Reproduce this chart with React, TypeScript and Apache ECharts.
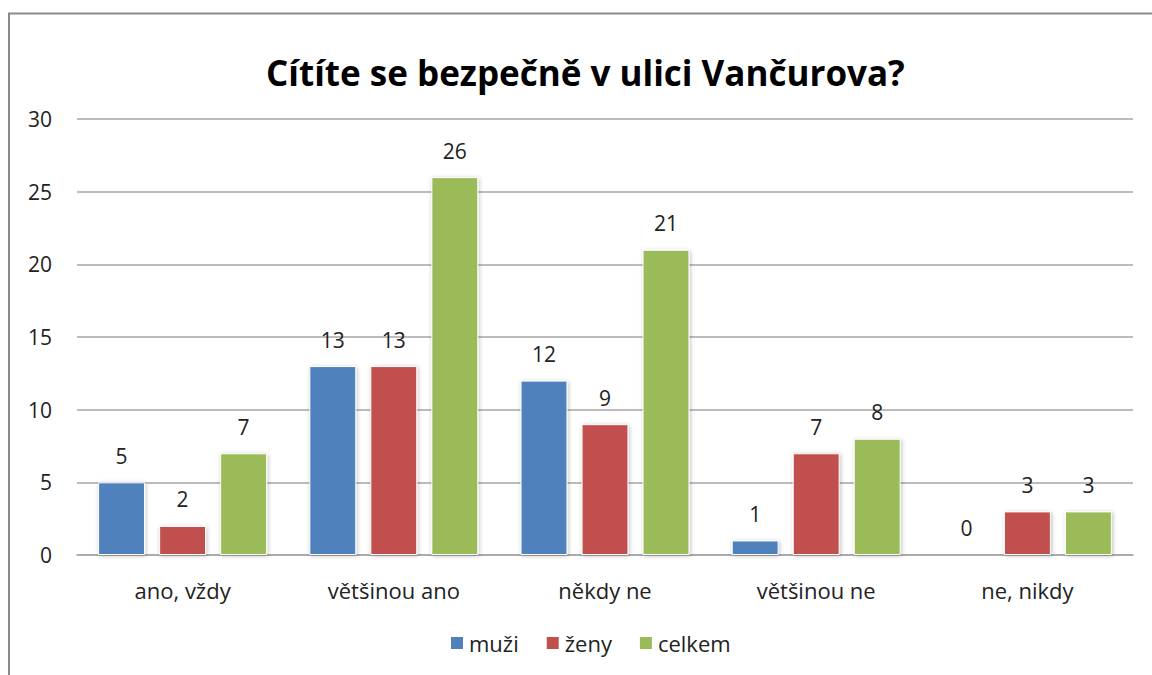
import React, { useEffect, useRef } from "react";
import * as echarts from "echarts";

const categories = ["ano, vždy", "většinou ano", "někdy ne", "většinou ne", "ne, nikdy"];
const muzi = [5, 13, 12, 1, 0];
const zeny = [2, 13, 9, 7, 3];
const celkem = [7, 26, 21, 8, 3];
const seriesNames = ["muži", "ženy", "celkem"];
const colors = ["#4F81BD", "#C0504D", "#9BBB59"];
const titleText = "Cítíte se bezpečně v ulici Vančurova?";

const FONT = "'Open Sans', 'Noto Sans', sans-serif";

export default function App() {
  const ref = useRef<HTMLDivElement>(null);
  useEffect(() => {
    if (!ref.current) return;
    const chart = echarts.init(ref.current, undefined, { renderer: "svg" });
    const mk = (name: string, data: number[], color: string) => ({
      name,
      type: "bar",
      data,
      barGap: "30%",
      barCategoryGap: "20%",
      itemStyle: {
        color,
        borderColor: "#ffffff",
        borderWidth: 1,
        shadowBlur: 4,
        shadowColor: "rgba(0,0,0,0.25)",
        shadowOffsetX: 1,
        shadowOffsetY: 1,
      },
      label: {
        show: true,
        position: "top",
        distance: 16,
        fontSize: 21,
        color: "#222",
        fontFamily: FONT,
      },
    });
    chart.setOption({
      animation: false,
      backgroundColor: "#ffffff",
      title: {
        text: titleText,
        left: 261,
        top: 50,
        textStyle: { fontSize: 35, fontWeight: "bold", color: "#000", fontFamily: FONT },
      },
      graphic: [
        {
          type: "rect",
          shape: { x: 9, y: 13.5, width: 1300, height: 800 },
          style: { fill: "none", stroke: "#8a8a8a", lineWidth: 2 },
          silent: true,
        },
      ],
      legend: {
        data: seriesNames,
        bottom: 16,
        left: 444,
        itemWidth: 14,
        itemHeight: 14,
        itemGap: 26,
        icon: "rect",
        textStyle: { fontSize: 22, color: "#222", fontFamily: FONT },
      },
      grid: { left: 77, right: 19, top: 119, bottom: 120, containLabel: false },
      xAxis: {
        type: "category",
        data: categories,
        axisLine: { show: true, lineStyle: { color: "#a6a6a6", width: 1.5 } },
        axisTick: { show: false },
        axisLabel: { fontSize: 22, color: "#222", margin: 24, fontFamily: FONT },
      },
      yAxis: {
        type: "value",
        min: 0,
        max: 30,
        interval: 5,
        axisLine: { show: false },
        axisTick: { show: false },
        axisLabel: { fontSize: 21, color: "#222", margin: 25, fontFamily: FONT },
        splitLine: { lineStyle: { color: "#a6a6a6", width: 1.5 } },
      },
      series: [
        mk(seriesNames[0], muzi, colors[0]),
        mk(seriesNames[1], zeny, colors[1]),
        mk(seriesNames[2], celkem, colors[2]),
      ],
    });
    return () => chart.dispose();
  }, []);
  return (
    <div
      ref={ref}
      style={{ position: "absolute", left: 0, top: 0, width: 1152, height: 675 }}
    />
  );
}
